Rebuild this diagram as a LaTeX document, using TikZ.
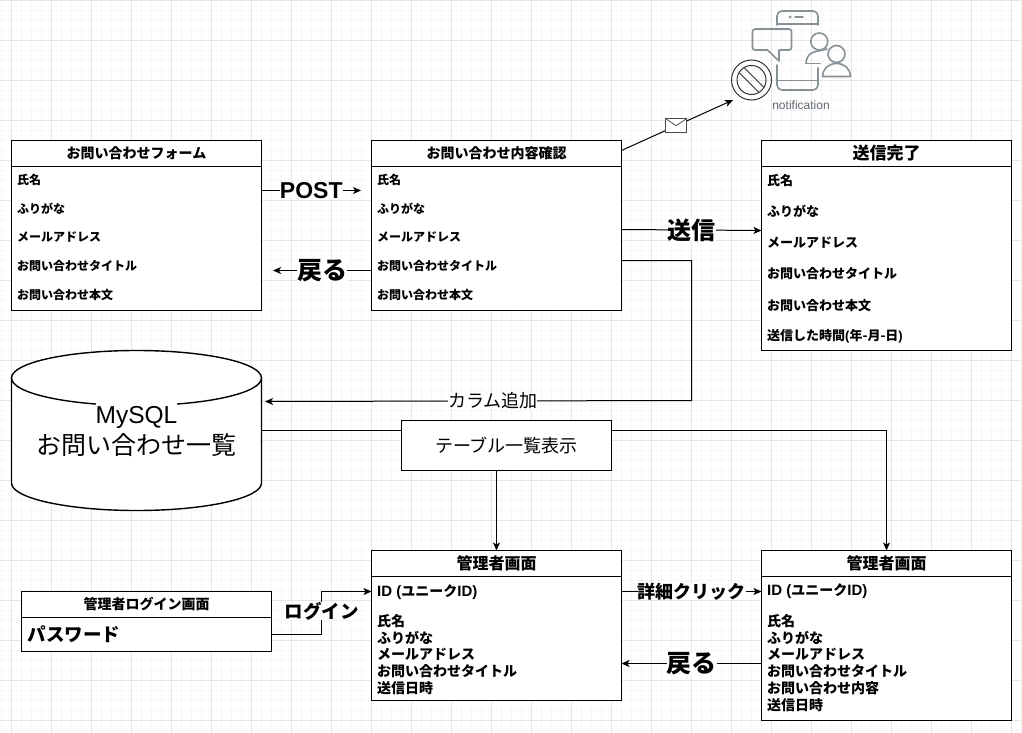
\documentclass[tikz,border=0pt]{standalone}
\usepackage{fontspec}
\setmainfont{Liberation Sans}
\newfontfamily\cjk{Noto Sans CJK JP}
\usetikzlibrary{arrows.meta,calc,positioning}
\definecolor{gridmajor}{HTML}{E6E6E6}
\definecolor{gridminor}{HTML}{F6F6F6}
\definecolor{icongray}{HTML}{879196}
\definecolor{icontext}{HTML}{5F6670}
\tikzset{
    ar/.style={-{Stealth[length=8pt,width=7pt,inset=2pt]},line width=1pt},
    ln/.style={line width=1pt},
    box/.style={draw,line width=1pt,fill=white,outer sep=0pt,inner sep=0pt,anchor=north west,rectangle},
    lbl/.style={fill=white,inner sep=0pt,font=\cjk\bfseries},
    rowtext/.style={anchor=west,inner sep=0pt,font=\cjk\bfseries},
}
\newcommand{\fs}[1]{\fontsize{#1}{#1}\selectfont}
\begin{document}
\begin{tikzpicture}[x=1pt,y=-1pt]
    \useasboundingbox (0,0) rectangle (1022,733);
    % grid
    \foreach \gx in {1.5,11.5,...,1021.5} \draw[gridminor,line width=1pt] (\gx,0) -- (\gx,733);
    \foreach \gy in {0.5,10.5,...,730.5} \draw[gridminor,line width=1pt] (0,\gy) -- (1022,\gy);
    \foreach \gx in {11.5,51.5,...,1021.5} \draw[gridmajor,line width=1pt] (\gx,0) -- (\gx,733);
    \foreach \gy in {0.5,40.5,...,730.5} \draw[gridmajor,line width=1pt] (0,\gy) -- (1022,\gy);

    % form pages
    \node [box,minimum width=250pt,minimum height=170pt] (form) at (11.5,140.5) {};
    \node [box,minimum width=250pt,minimum height=26pt,font=\cjk\bfseries\fs{14}] (formtitle) at (form.north west) {お問い合わせフォーム};
    \foreach \ry/\rt [count=\ri] in {180/氏名,208.5/ふりがな,237.5/メールアドレス,266/お問い合わせタイトル,294.5/お問い合わせ本文}
        \node [rowtext,font=\cjk\bfseries\fs{12}] (formrow\ri) at (17,\ry) {\rt};

    \node [box,minimum width=250pt,minimum height=170pt] (check) at (371.5,140.5) {};
    \node [box,minimum width=250pt,minimum height=26pt,font=\cjk\bfseries\fs{14}] (checktitle) at (check.north west) {お問い合わせ内容確認};
    \foreach \ry/\rt [count=\ri] in {180/氏名,208.5/ふりがな,237.5/メールアドレス,266/お問い合わせタイトル,294.5/お問い合わせ本文}
        \node [rowtext,font=\cjk\bfseries\fs{12}] (checkrow\ri) at (377,\ry) {\rt};

    \node [box,minimum width=250pt,minimum height=210pt] (done) at (761.5,140.5) {};
    \node [box,minimum width=250pt,minimum height=26pt,font=\cjk\bfseries\fs{17}] (donetitle) at (done.north west) {送信完了};
    \foreach \ry/\rt [count=\ri] in {180.5/氏名,211.5/ふりがな,242.5/メールアドレス,273.5/お問い合わせタイトル,305.5/お問い合わせ本文,336.5/送信した時間{\fontspec{Liberation Sans}\bfseries(}年-月-日{\fontspec{Liberation Sans}\bfseries)}}
        \node [rowtext,font=\cjk\bfseries\fs{13}] (donerow\ri) at (767,\ry) {\rt};

    % database
    \node [minimum width=250pt,minimum height=160pt,outer sep=0pt,inner sep=0pt] (db) at (136.5,430.5) {};
    \draw [line width=1.4pt,fill=white] (db.west |- 0,378) arc[start angle=180,end angle=0,x radius=125pt,y radius=27.5pt]
        -- (db.east |- 0,483) arc[start angle=360,end angle=180,x radius=125pt,y radius=27.5pt] -- cycle;
    \draw [line width=1.4pt] (db.west |- 0,378) arc[start angle=180,end angle=360,x radius=125pt,y radius=27.5pt];
    \node [fill=white,inner sep=0pt,anchor=base,text height=20pt,text depth=6pt,font=\fs{24.5}] (dbname) at (136.5,423) {MySQL};
    \node [inner sep=0pt,font=\cjk\fs{25}] (dblist) at (136.5,445) {お問い合わせ一覧};

    % table view
    \node [box,minimum width=210pt,minimum height=50pt,font=\cjk\fs{18}] (table) at (401.5,420.5) {テーブル一覧表示};

    % admin pages
    \node [box,minimum width=250pt,minimum height=60pt] (login) at (21.5,591.5) {};
    \node [box,minimum width=250pt,minimum height=26pt,font=\cjk\bfseries\fs{14}] (logintitle) at (login.north west) {管理者ログイン画面};
    \node [rowtext,font=\cjk\bfseries\fs{18.5}] (loginrow) at (27.5,634) {パスワード};

    \node [box,minimum width=250pt,minimum height=150pt] (admin) at (371.5,550.5) {};
    \node [box,minimum width=250pt,minimum height=26pt,font=\cjk\bfseries\fs{16}] (admintitle) at (admin.north west) {管理者画面};
    \node [rowtext,font=\bfseries\fs{15}] (adminid) at (377,592) {ID ({\cjk\bfseries\fs{14}ユニーク}ID)};
    \foreach \ry/\rt [count=\ri] in {621/氏名,638/ふりがな,654.5/メールアドレス,671/お問い合わせタイトル,688/送信日時}
        \node [rowtext,font=\cjk\bfseries\fs{14}] (adminrow\ri) at (377,\ry) {\rt};

    \node [box,minimum width=250pt,minimum height=170pt] (detail) at (761.5,550.5) {};
    \node [box,minimum width=250pt,minimum height=26pt,font=\cjk\bfseries\fs{16}] (detailtitle) at (detail.north west) {管理者画面};
    \node [rowtext,font=\bfseries\fs{15}] (detailid) at (767,591) {ID ({\cjk\bfseries\fs{14}ユニーク}ID)};
    \foreach \ry/\rt [count=\ri] in {621/氏名,637.5/ふりがな,654.5/メールアドレス,671/お問い合わせタイトル,688/お問い合わせ内容,705/送信日時}
        \node [rowtext,font=\cjk\bfseries\fs{14}] (detailrow\ri) at (767,\ry) {\rt};

    % notification icon
    \node [inner sep=0pt,text=icontext,font=\fs{12}] (notif) at (801,105) {notification};
    \coordinate (notifin) at (733,100);
    \begin{scope}[icongray,line width=1.6pt,line cap=round,line join=round]
        \draw (777,25) -- (777,16) arc[start angle=180,end angle=90,radius=5pt] -- (813,11) arc[start angle=90,end angle=0,radius=5pt] -- (818,25);
        \draw (777,24) -- (818,24);
        \draw (777,65) -- (777,85) arc[start angle=180,end angle=270,radius=5pt] -- (813,90) arc[start angle=270,end angle=360,radius=5pt] -- (818,68);
        \draw (777,80.5) -- (818,80.5);
        \fill (790,17) circle (1.5pt);
        \draw (795,17) -- (803,17);
        \draw (779,61) -- (767.5,50) -- (755,50) arc[start angle=270,end angle=180,radius=2.5pt] -- (752.5,31.5) arc[start angle=180,end angle=90,radius=2.5pt] -- (789,29) arc[start angle=90,end angle=0,radius=2.5pt] -- (791.5,47.5) arc[start angle=360,end angle=270,radius=2.5pt] -- (779,50) -- cycle;
        \draw (819.3,41.5) circle (8.5pt);
        \draw (806,63.5) .. controls (806.5,56) and (810,52.5) .. (816,51.5) -- (827,49);
        \draw (806,63.5) -- (820,63.5);
        \draw (836.5,54) circle (8.5pt);
        \draw (822.5,76.5) .. controls (823,68) and (829,63.5) .. (836.5,63.5) .. controls (844,63.5) and (850,68) .. (850.5,76.5) -- cycle;
    \end{scope}
    \begin{scope}[black!80,line width=1pt]
        \draw (751.5,80) circle (20pt);
        \draw (751.5,80) circle (14.5pt);
        \draw (739.06,72.56) -- (758.94,92.44);
        \draw (744.06,67.56) -- (763.94,87.44);
    \end{scope}

    % connectors
    \coordinate (postend) at (361,190.5);
    \coordinate (backend) at (273,270.5);
    \coordinate (dbin) at (265,401.5);
    \draw [ar] ([yshift=-50pt]form.north east) -- node [lbl,font=\bfseries\fs{23}] (postlabel) {POST} (postend);
    \draw [ar] ([yshift=-130pt]check.north west) -- node [lbl,font=\cjk\bfseries\fs{25}] (backlabel) {戻る} (backend);
    \draw [ar] ([yshift=-89pt]check.north east) -- node [lbl,font=\cjk\bfseries\fs{24}] (sendlabel) {送信} ([yshift=-90pt]done.north west);
    \draw [ar] ([yshift=-10pt]check.north east) -- node (mail) [draw=black!70,fill=white,line width=1pt,minimum width=21pt,minimum height=14pt,inner sep=0pt,pos=0.49] {} (notifin);
    \draw [black!70,line width=.8pt] (mail.north west) -- (mail.center) -- (mail.north east);
    \draw [ar] ([yshift=-120pt]check.north east) -- (691.5,260.5) -- (691.5,400.5) -- node [lbl,font=\cjk\fs{18},pos=0.466] (addlabel) {カラム追加} (dbin);
    \draw [ln] (db.east) -- (table.west |- db.east);
    \draw [ar] (table.east |- db.east) -| (detail.north -| 886.5,0);
    \draw [ar] ([xshift=-10pt]table.south) -- ([xshift=-10pt]table.south |- admin.north);
    \draw [ar] (login.east |- 0,634.5) -- (321.5,634.5) -- (321.5,591.5) -- (admin.west |- 0,591.5);
    \node [lbl,font=\cjk\bfseries\fs{18.5}] (loginlabel) at (321.5,611) {ログイン};
    \draw [ar] (admin.east |- 0,591.5) -- node [lbl,font=\cjk\bfseries\fs{18}] (clicklabel) {詳細クリック} (detail.west |- 0,591.5);
    \draw [ar] (detail.west |- 0,663.5) -- node [lbl,font=\cjk\bfseries\fs{25}] (back2label) {戻る} (admin.east |- 0,663.5);
\end{tikzpicture}
\end{document}
